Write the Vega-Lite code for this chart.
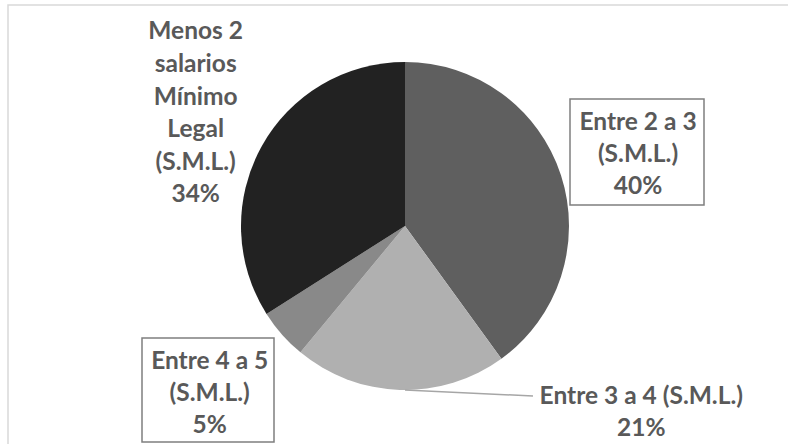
{
  "$schema": "https://vega.github.io/schema/vega-lite/v6.json",
  "width": 794,
  "height": 442,
  "autosize": {"type": "none"},
  "padding": {"left": 8, "top": 5, "right": 0, "bottom": 0},
  "background": "white",
  "view": {"stroke": "#d9d9d9", "strokeWidth": 1.5},
  "data": {
    "values": [
      {"categoria": "Entre 2 a 3 (S.M.L.)", "porcentaje": 40, "etiqueta": "Entre 2 a 3\n(S.M.L.)"},
      {"categoria": "Entre 3 a 4 (S.M.L.)", "porcentaje": 21, "etiqueta": "Entre 3 a 4 (S.M.L.)"},
      {"categoria": "Entre 4 a 5 (S.M.L.)", "porcentaje": 5, "etiqueta": "Entre 4 a 5\n(S.M.L.)"},
      {"categoria": "Menos 2 salarios Mínimo Legal (S.M.L.)", "porcentaje": 34, "etiqueta": "Menos 2\nsalarios\nMínimo\nLegal\n(S.M.L.)"}
    ]
  },
  "transform": [
    {"calculate": "datum.etiqueta + '\\n' + datum.porcentaje + '%'", "as": "texto"}
  ],
  "layer": [
    {
      "mark": {"type": "arc", "outerRadius": 164},
      "encoding": {
        "theta": {"field": "porcentaje", "type": "quantitative", "stack": true},
        "color": {
          "field": "categoria",
          "type": "nominal",
          "scale": {
            "domain": ["Entre 2 a 3 (S.M.L.)", "Entre 3 a 4 (S.M.L.)", "Entre 4 a 5 (S.M.L.)", "Menos 2 salarios Mínimo Legal (S.M.L.)"],
            "range": ["#5f5f5f", "#b0b0b0", "#898989", "#222222"]
          },
          "legend": null
        }
      }
    },
    {
      "transform": [{"filter": "datum.categoria === 'Entre 3 a 4 (S.M.L.)'"}],
      "mark": {"type": "point", "shape": "M0,164L128,170", "size": 4, "filled": false, "stroke": "#a6a6a6", "strokeWidth": 1.5, "opacity": 1},
      "encoding": {}
    },
    {
      "transform": [{"filter": "datum.categoria === 'Entre 2 a 3 (S.M.L.)'"}],
      "mark": {"type": "point", "shape": "M165,-127L299,-127L299,-21L165,-21Z", "size": 4, "filled": false, "stroke": "#7f7f7f", "strokeWidth": 1.5, "opacity": 1},
      "encoding": {}
    },
    {
      "transform": [{"filter": "datum.categoria === 'Entre 4 a 5 (S.M.L.)'"}],
      "mark": {"type": "point", "shape": "M-263,112L-131,112L-131,216L-263,216Z", "size": 4, "filled": false, "stroke": "#7f7f7f", "strokeWidth": 1.5, "opacity": 1},
      "encoding": {}
    },
    {
      "mark": {"type": "text", "radius": 245, "dx": 0, "dy": -27, "font": "Lato", "fontWeight": "bold", "fontSize": 24.5, "lineHeight": 32, "lineBreak": "\n", "align": "center", "baseline": "middle", "color": "#595959"},
      "encoding": {
        "theta": {"field": "porcentaje", "type": "quantitative", "stack": true},
        "detail": {"field": "categoria", "type": "nominal"},
        "text": {"condition": {"test": "datum.categoria === 'Entre 2 a 3 (S.M.L.)'", "field": "texto"}, "value": ""}
      }
    },
    {
      "mark": {"type": "text", "radius": 182, "dx": 242, "dy": -11, "font": "Lato", "fontWeight": "bold", "fontSize": 24.5, "lineHeight": 32, "lineBreak": "\n", "align": "center", "baseline": "middle", "color": "#595959"},
      "encoding": {
        "theta": {"field": "porcentaje", "type": "quantitative", "stack": true},
        "detail": {"field": "categoria", "type": "nominal"},
        "text": {"condition": {"test": "datum.categoria === 'Entre 3 a 4 (S.M.L.)'", "field": "texto"}, "value": ""}
      }
    },
    {
      "mark": {"type": "text", "radius": 255, "dx": -4, "dy": -33, "font": "Lato", "fontWeight": "bold", "fontSize": 24.5, "lineHeight": 32, "lineBreak": "\n", "align": "center", "baseline": "middle", "color": "#595959"},
      "encoding": {
        "theta": {"field": "porcentaje", "type": "quantitative", "stack": true},
        "detail": {"field": "categoria", "type": "nominal"},
        "text": {"condition": {"test": "datum.categoria === 'Entre 4 a 5 (S.M.L.)'", "field": "texto"}, "value": ""}
      }
    },
    {
      "mark": {"type": "text", "radius": 240, "dx": 1, "dy": -78, "font": "Lato", "fontWeight": "bold", "fontSize": 24.5, "lineHeight": 32.6, "lineBreak": "\n", "align": "center", "baseline": "middle", "color": "#595959"},
      "encoding": {
        "theta": {"field": "porcentaje", "type": "quantitative", "stack": true},
        "detail": {"field": "categoria", "type": "nominal"},
        "text": {"condition": {"test": "datum.categoria === 'Menos 2 salarios Mínimo Legal (S.M.L.)'", "field": "texto"}, "value": ""}
      }
    }
  ]
}
